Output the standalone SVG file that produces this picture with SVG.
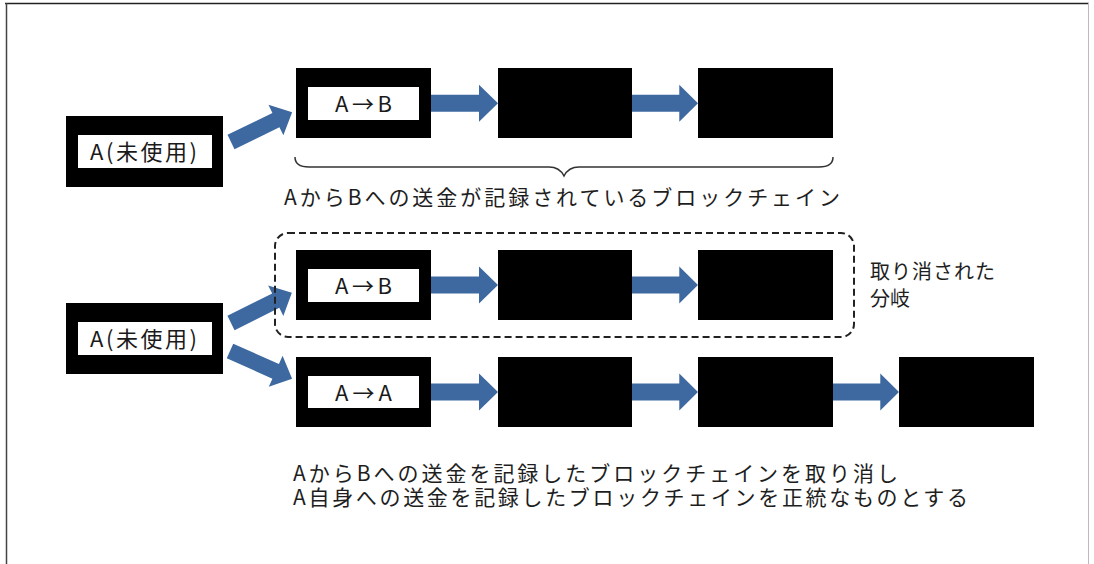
<svg xmlns="http://www.w3.org/2000/svg" width="1094" height="564" viewBox="0 0 1094 564">
  <defs>
    <style>
      .blk { fill: #000; }
      .inner { fill: #fff; }
      .lbl { font-family: "Noto Sans CJK JP", "Liberation Sans", sans-serif; font-size: 22px; fill: #1a1a1a; }
      .cap { font-family: "Noto Sans CJK JP", "Liberation Sans", sans-serif; font-size: 21px; fill: #1e1e1e; }
      .note { font-family: "Noto Sans CJK JP", "Liberation Sans", sans-serif; font-size: 20px; fill: #1e1e1e; }
      .arr { fill: #3D69A0; }
    </style>
    <polygon id="harrow" points="0,-8.5 48,-8.5 48,-18.5 67,0 48,18.5 48,8.5 0,8.5"/>
    <polygon id="darrow" points="0,-8 50,-8 50,-17 68,0 50,17 50,8 0,8"/>
  </defs>
  <rect x="0" y="0" width="1094" height="564" fill="#fff"/>
  <!-- frame -->
  <g id="frame" fill="none">
    <line x1="5" y1="3.5" x2="1089" y2="3.5" stroke="#222" stroke-width="1.5"/>
    <line x1="6.5" y1="3" x2="6.5" y2="564" stroke="#444" stroke-width="1.5"/>
    <line x1="1088.5" y1="3" x2="1088.5" y2="564" stroke="#bbb" stroke-width="1"/>
  </g>

  <!-- top section -->
  <g id="src-top">
    <rect class="blk" x="66" y="116" width="157" height="71"/>
    <rect class="inner" x="78" y="135" width="134" height="33"/>
    <text class="lbl" x="90" y="160" textLength="107" lengthAdjust="spacing">A(未使用)</text>
  </g>
  <g id="top-b1">
    <rect class="blk" x="296" y="68" width="135" height="70"/>
    <rect class="inner" x="308" y="87" width="111" height="33"/>
    <text class="lbl" x="335" y="111.5" textLength="57" lengthAdjust="spacing">A→B</text>
  </g>
  <g id="top-b2"><rect class="blk" x="498" y="68" width="134" height="70"/></g>
  <g id="top-b3"><rect class="blk" x="698" y="68" width="135" height="70"/></g>

  <!-- middle (cancelled) branch -->
  <g id="src-bottom">
    <rect class="blk" x="66" y="303" width="157" height="71"/>
    <rect class="inner" x="78" y="322" width="134" height="33"/>
    <text class="lbl" x="90" y="347" textLength="107" lengthAdjust="spacing">A(未使用)</text>
  </g>
  <g id="mid-b1">
    <rect class="blk" x="296" y="250" width="135" height="70"/>
    <rect class="inner" x="308" y="269" width="111" height="33"/>
    <text class="lbl" x="335" y="293.5" textLength="57" lengthAdjust="spacing">A→B</text>
  </g>
  <g id="mid-b2"><rect class="blk" x="498" y="250" width="134" height="70"/></g>
  <g id="mid-b3"><rect class="blk" x="698" y="250" width="135" height="70"/></g>

  <!-- lower (valid) branch -->
  <g id="low-b1">
    <rect class="blk" x="296" y="357" width="135" height="70"/>
    <rect class="inner" x="308" y="376" width="111" height="32"/>
    <text class="lbl" x="335" y="400.5" textLength="57" lengthAdjust="spacing">A→A</text>
  </g>
  <g id="low-b2"><rect class="blk" x="498" y="357" width="134" height="70"/></g>
  <g id="low-b3"><rect class="blk" x="698" y="357" width="135" height="70"/></g>
  <g id="low-b4"><rect class="blk" x="899" y="357" width="135" height="70"/></g>

  <!-- connectors -->
  <g id="connectors" class="arr">
    <use href="#darrow" transform="translate(231,142) rotate(-26)"/>
    <use href="#harrow" transform="translate(431,103.3)"/>
    <use href="#harrow" transform="translate(632,103.3) scale(0.985,1)"/>
    <use href="#darrow" transform="translate(231,323) rotate(-26.5)"/>
    <use href="#darrow" transform="translate(230,351) rotate(24)"/>
    <use href="#harrow" transform="translate(431,285)"/>
    <use href="#harrow" transform="translate(632,285) scale(0.985,1)"/>
    <use href="#harrow" transform="translate(431,392)"/>
    <use href="#harrow" transform="translate(632,392) scale(0.985,1)"/>
    <use href="#harrow" transform="translate(833,392) scale(0.985,1)"/>
  </g>

  <!-- brace -->
  <g id="brace">
    <path d="M295,157 C295,163 299,167 309,167 L549,167 C557,167 561,170 564,176 C567,170 571,167 579,167 L819,167 C829,167 833,163 833,157" fill="none" stroke="#333" stroke-width="1.5"/>
  </g>
  <g id="caption-top">
    <text class="cap" x="284" y="205" textLength="556" lengthAdjust="spacing">AからBへの送金が記録されているブロックチェイン</text>
  </g>

  <!-- dashed cancelled-branch outline -->
  <g id="cancelled-branch">
    <rect x="275" y="233" width="579" height="104" rx="13" ry="13" fill="none" stroke="#222" stroke-width="2" stroke-dasharray="7,4"/>
    <text class="note" x="870" y="278.5" textLength="125" lengthAdjust="spacing">取り消された</text>
    <text class="note" x="870" y="306">分岐</text>
  </g>

  <g id="caption-bottom">
    <text class="cap"><tspan x="293" y="481" textLength="605" lengthAdjust="spacing">AからBへの送金を記録したブロックチェインを取り消し</tspan><tspan x="293" y="505" textLength="675" lengthAdjust="spacing">A自身への送金を記録したブロックチェインを正統なものとする</tspan></text>
  </g>
</svg>
